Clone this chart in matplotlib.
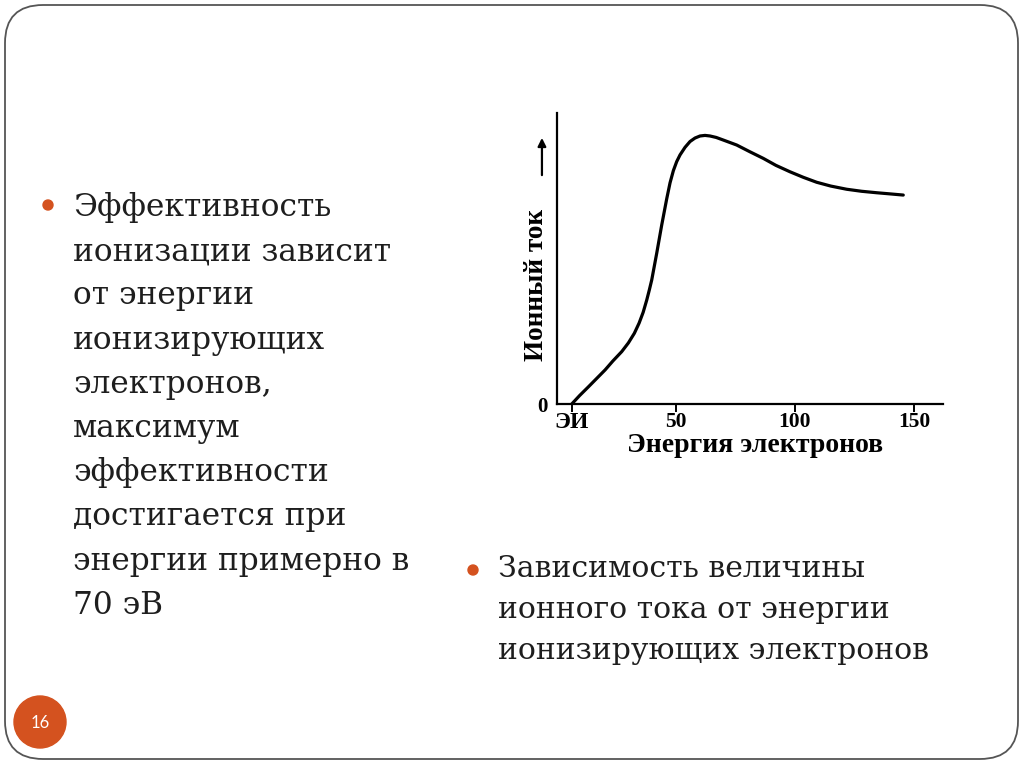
import numpy as np
import matplotlib.pyplot as plt
from matplotlib.patches import FancyBboxPatch, Circle

# ---- data ----
energy = [6.2, 9.5, 13.2, 16.7, 20.2, 23.5, 27.2, 30.0, 32.5, 34.5, 36.2, 37.7,
          38.8, 39.8, 41.9, 44.0, 46.1, 47.5, 48.9, 50.3, 51.7, 53.8, 55.9, 58.0,
          60.1, 62.2, 64.3, 66.9, 69.9, 75.5, 81.0, 86.7, 92.0, 97.9, 103.5,
          109.1, 115.0, 121.7, 128.0, 134.3, 140.0, 145.5]
current = [0.0, 2.9, 5.9, 8.8, 11.7, 14.8, 18.0, 21.0, 24.3, 27.8, 31.5, 35.7,
           39.2, 42.6, 51.8, 61.5, 70.5, 76.0, 80.2, 83.3, 85.6, 88.2, 90.2, 91.4,
           92.1, 92.3, 92.1, 91.6, 90.7, 89.0, 86.7, 84.4, 82.0, 79.8, 77.9,
           76.2, 74.9, 73.8, 73.1, 72.6, 72.2, 71.8]
tick_pos = [6.3, 50, 100, 150]
tick_labels = ['ЭИ', '50', '100', '150']

left_lines = ['Эффективность', 'ионизации зависит', 'от энергии', 'ионизирующих',
              'электронов,', 'максимум', 'эффективности', 'достигается при',
              'энергии примерно в', '70 эВ']
right_lines = ['Зависимость величины', 'ионного тока от энергии',
               'ионизирующих электронов']
page_no = '16'

accent = '#D4521F'
text_col = '#1e1e1e'

fig = plt.figure(figsize=(10.24, 7.67), dpi=100, facecolor='white')

# slide background in pixel coordinates
bg = fig.add_axes([0, 0, 1, 1], zorder=0)
bg.set_xlim(0, 1024)
bg.set_ylim(767, 0)
bg.axis('off')

frame = FancyBboxPatch((5, 5), 1013, 754, boxstyle='round,pad=0,rounding_size=38',
                       fill=False, ec='#555555', lw=1.3)
bg.add_patch(frame)

# left bullet block
bg.add_patch(Circle((48, 205), 5, color=accent))
for i, s in enumerate(left_lines):
    bg.text(73, 216 + 44.2 * i, s, fontsize=22.5, family='DejaVu Serif',
            color=text_col, va='baseline', ha='left')

# right bullet block
bg.add_patch(Circle((473, 570), 5, color=accent))
for i, s in enumerate(right_lines):
    bg.text(498, 577 + 41 * i, s, fontsize=21.5, family='DejaVu Serif',
            color=text_col, va='baseline', ha='left')

# page number
bg.add_patch(Circle((40, 722), 26, color=accent))
bg.text(40, 723, page_no, fontsize=12, color='white', family='Lato',
        ha='center', va='center')

# ---- the chart ----
ax = fig.add_axes([557 / 1024, (767 - 404) / 767, 386 / 1024, 291 / 767], zorder=1)
ax.patch.set_alpha(0)
ax.plot(energy, current, color='black', lw=2.3, solid_capstyle='round')
ax.set_xlim(0, 162.2)
ax.set_ylim(0, 100)

for side in ['top', 'right']:
    ax.spines[side].set_visible(False)
for side in ['left', 'bottom']:
    ax.spines[side].set_linewidth(1.6)

ax.set_xticks(tick_pos)
ax.set_xticklabels(tick_labels, family='Liberation Serif', fontsize=15.5, fontweight='bold')
ax.get_xticklabels()[0].set_fontsize(17)
ax.tick_params(axis='x', direction='out', length=6, width=1.4, pad=0)
ax.set_yticks([0])
ax.set_yticklabels(['0'], family='Liberation Serif', fontsize=15, fontweight='bold')
ax.tick_params(axis='y', length=0, pad=7)

ax.text(0.513, -0.165, 'Энергия электронов', transform=ax.transAxes,
        family='Liberation Serif', fontsize=20, fontweight='bold',
        ha='center', va='baseline')
ax.text(-0.054, 0.409, 'Ионный ток', transform=ax.transAxes, rotation=90,
        family='Liberation Serif', fontsize=19.5, fontweight='bold',
        ha='center', va='center')
ax.annotate('', xy=(-0.039, 0.924), xytext=(-0.039, 0.777),
            xycoords='axes fraction', textcoords='axes fraction',
            arrowprops=dict(arrowstyle='-|>', lw=1.6, color='black', mutation_scale=12),
            annotation_clip=False)

fig.savefig('out.png', dpi=100, facecolor='white')
